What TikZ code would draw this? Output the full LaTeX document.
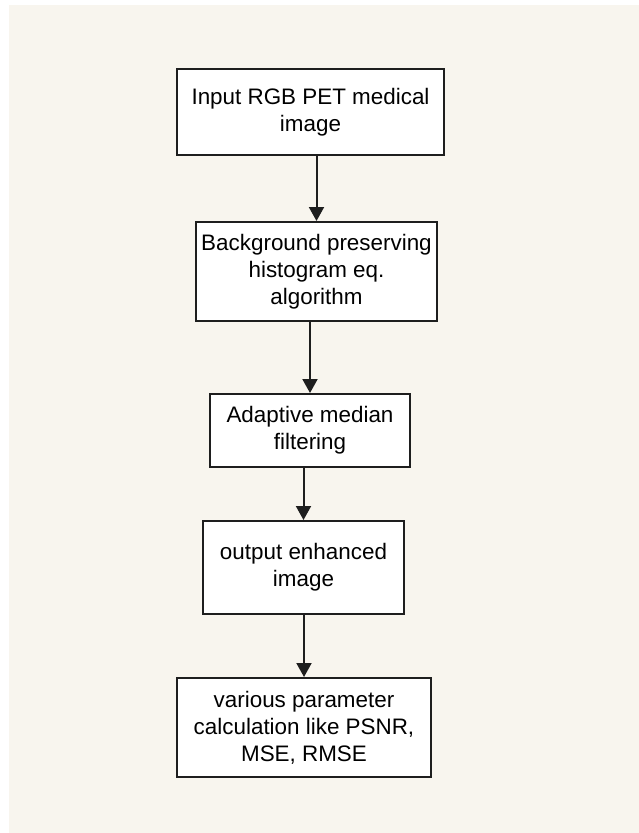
\documentclass[tikz,border=0pt]{standalone}
\usepackage{fontspec}
\setmainfont{Liberation Sans}
\usetikzlibrary{arrows.meta}
\definecolor{bgbeige}{HTML}{F8F5EE}
\definecolor{edge}{HTML}{1E1E1E}
\tikzset{
  stepbox/.style={draw=edge, line width=2bp, fill=white, align=center,
    inner sep=0pt, font=\fontsize{22.5}{27}\selectfont, text=black},
  flow/.style={draw=edge, line width=2bp, -{Triangle[length=14bp,width=15bp]}}
}
\begin{document}
\begin{tikzpicture}[x=1bp,y=-1bp]
\fill[white] (0,0) rectangle (639,833);
\fill[bgbeige] (9,5) rectangle (639,833);
\useasboundingbox (0,0) rectangle (639,833);
\node[stepbox, minimum width=267bp, minimum height=86bp] (b1) at (310.5,112) {Input RGB PET medical\\image};
\node[stepbox, minimum width=241bp, minimum height=99bp] (b2) at (316.5,271.5) {Background preserving\\histogram eq.\\algorithm};
\node[stepbox, minimum width=200bp, minimum height=73bp] (b3) at (310,430.5) {Adaptive median\\filtering};
\node[stepbox, minimum width=201bp, minimum height=93bp] (b4) at (303.5,567.5) {output enhanced\\image};
\node[stepbox, minimum width=254bp, minimum height=99bp] (b5) at (304,727.5) {various parameter\\calculation like PSNR,\\MSE, RMSE};
\draw[flow] (b2.north |- b1.south) -- (b2.north);
\draw[flow] (b3.north |- b2.south) -- (b3.north);
\draw[flow] (b4.north |- b3.south) -- (b4.north);
\draw[flow] (b5.north |- b4.south) -- (b5.north);
\end{tikzpicture}
\end{document}
